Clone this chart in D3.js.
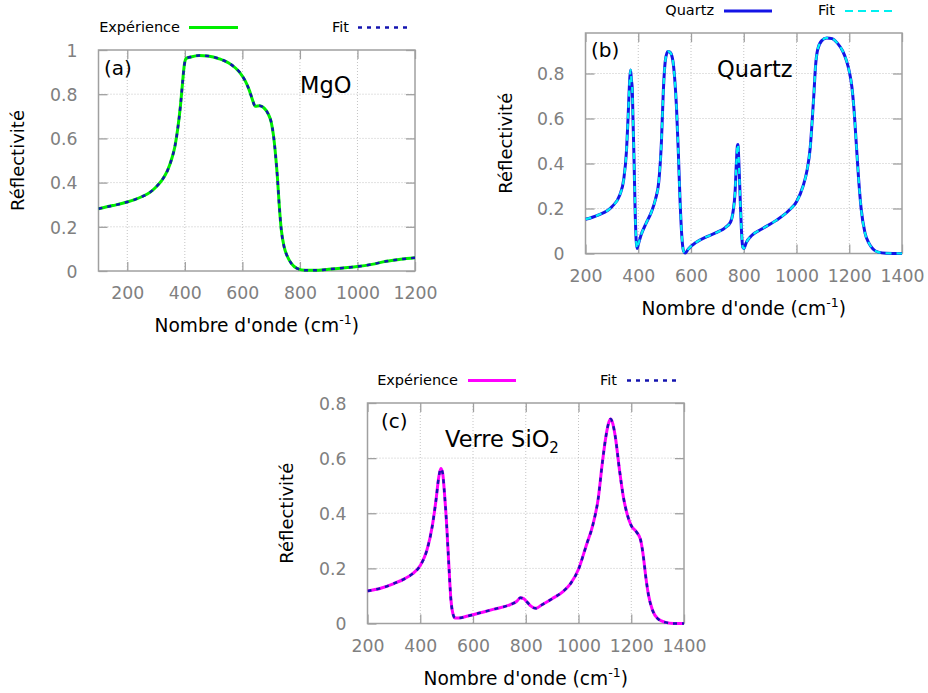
<!DOCTYPE html>
<html>
<head>
<meta charset="utf-8">
<script src="https://cdn.jsdelivr.net/npm/d3@7"></script>
<style>
html,body{margin:0;padding:0;background:#fff;}
svg{display:block;font-family:"DejaVu Sans",Verdana,sans-serif;}
</style>
</head>
<body>
<svg id="chart" width="928" height="693"></svg>
<script>
// ---------- DATA ----------
// (a) MgO
const mgoWave = [100,150,200,250,280,300,320,340,355,365,375,385,392,398,405,420,450,480,520,560,590,610,625,635,645,660,675,690,700,708,715,722,728,735,745,755,770,790,820,850,900,950,1000,1050,1100,1150,1200];
const mgoExp  = [0.282,0.296,0.312,0.336,0.357,0.38,0.41,0.455,0.51,0.56,0.64,0.75,0.85,0.93,0.962,0.968,0.975,0.973,0.96,0.935,0.9,0.86,0.815,0.775,0.745,0.748,0.738,0.71,0.675,0.615,0.53,0.42,0.3,0.19,0.11,0.07,0.035,0.012,0.003,0.003,0.008,0.014,0.02,0.03,0.044,0.053,0.06];
const mgoFit  = mgoExp.slice();
const mgoXTicks = [200,400,600,800,1000,1200];
const mgoYTicks = [0,0.2,0.4,0.6,0.8,1];

// (b) Quartz
const qzWave = [200,250,300,330,345,355,362,368,371,374,377,380,384,388,392,395,400,410,430,450,465,478,488,495,503,512,520,530,538,545,552,558,565,572,578,590,620,660,700,730,750,760,767,772,776,778,781,786,791,796,800,810,830,870,920,970,1000,1025,1040,1052,1060,1066,1072,1080,1095,1115,1135,1155,1175,1190,1200,1210,1218,1226,1235,1245,1260,1275,1290,1310,1340,1400];
const qzExp  = [0.152,0.172,0.208,0.26,0.33,0.45,0.62,0.78,0.816,0.77,0.74,0.6,0.42,0.2,0.06,0.022,0.04,0.08,0.135,0.185,0.24,0.32,0.5,0.72,0.86,0.898,0.895,0.865,0.78,0.65,0.45,0.25,0.08,0.01,0.002,0.02,0.05,0.075,0.095,0.115,0.14,0.19,0.27,0.4,0.48,0.485,0.42,0.26,0.11,0.03,0.022,0.05,0.08,0.11,0.145,0.19,0.23,0.3,0.37,0.47,0.6,0.71,0.83,0.905,0.945,0.958,0.955,0.935,0.9,0.855,0.81,0.74,0.64,0.5,0.34,0.2,0.09,0.045,0.02,0.006,0.001,0.0];
const qzFit  = qzExp.slice();
const qzXTicks = [200,400,600,800,1000,1200,1400];
const qzYTicks = [0,0.2,0.4,0.6,0.8];

// (c) Verre SiO2
const glWave = [200,250,300,340,370,400,425,445,460,470,478,485,492,500,508,516,524,532,545,580,620,680,740,765,780,792,805,820,838,860,900,940,970,1000,1030,1055,1075,1090,1105,1115,1122,1130,1140,1155,1170,1185,1200,1220,1235,1245,1255,1265,1280,1300,1330,1360,1400];
const glExp  = [0.118,0.128,0.145,0.162,0.18,0.21,0.265,0.35,0.45,0.53,0.562,0.545,0.47,0.36,0.22,0.09,0.035,0.02,0.02,0.027,0.037,0.052,0.068,0.08,0.093,0.09,0.078,0.063,0.055,0.067,0.09,0.115,0.145,0.197,0.285,0.36,0.455,0.58,0.685,0.73,0.742,0.725,0.675,0.56,0.46,0.395,0.355,0.332,0.305,0.25,0.17,0.105,0.05,0.018,0.004,0.0,0.0];
const glFit  = glExp.slice();
const glXTicks = [200,400,600,800,1000,1200,1400];
const glYTicks = [0,0.2,0.4,0.6,0.8];

// ---------- DRAW ----------
const svg = d3.select("#chart");
const FRAME = "#a0a0a0", GRID = "#c4c4c4", TICKTXT = "#808080";

function panel(o){
  const g = svg.append("g");
  const x = d3.scaleLinear().domain(o.xDomain).range([o.left,o.right]);
  const y = d3.scaleLinear().domain(o.yDomain).range([o.bottom,o.top]);
  // grid
  g.append("g").selectAll("line").data(o.xTicks.filter(t=>t>o.xDomain[0]&&t<o.xDomain[1])).join("line")
    .attr("x1",d=>x(d)).attr("x2",d=>x(d)).attr("y1",o.top).attr("y2",o.bottom)
    .attr("stroke",GRID).attr("stroke-width",1).attr("stroke-dasharray","1,2");
  g.append("g").selectAll("line").data(o.yTicks.filter(t=>t>o.yDomain[0]&&t<o.yDomain[1])).join("line")
    .attr("x1",o.left).attr("x2",o.right).attr("y1",d=>y(d)).attr("y2",d=>y(d))
    .attr("stroke",GRID).attr("stroke-width",1).attr("stroke-dasharray","1,2");
  // axes with inward ticks (all four sides)
  const tl = 9;
  const axB = g.append("g").attr("transform",`translate(0,${o.bottom})`)
    .call(d3.axisBottom(x).tickValues(o.xTicks).tickSize(-tl).tickPadding(tl+10).tickFormat(d3.format("d")));
  const axT = g.append("g").attr("transform",`translate(0,${o.top})`)
    .call(d3.axisTop(x).tickValues(o.xTicks).tickSize(-tl).tickFormat(""));
  const axL = g.append("g").attr("transform",`translate(${o.left},0)`)
    .call(d3.axisLeft(y).tickValues(o.yTicks).tickSize(-tl).tickPadding(tl+12).tickFormat(d=>d3.format("")(+d.toFixed(1))));
  const axR = g.append("g").attr("transform",`translate(${o.right},0)`)
    .call(d3.axisRight(y).tickValues(o.yTicks).tickSize(-tl).tickFormat(""));
  [axB,axT,axL,axR].forEach(a=>{
    a.select(".domain").remove();
    a.selectAll(".tick line").attr("stroke",FRAME).attr("stroke-width",1.3);
    a.selectAll(".tick text").attr("fill",TICKTXT).attr("font-size",17.3).attr("font-family","DejaVu Sans");
  });
  axB.selectAll(".tick text").attr("dy",null).attr("y",28).attr("dominant-baseline","auto");
  axL.selectAll(".tick text").attr("dy","0.36em");
  // frame
  g.append("rect").attr("x",o.left).attr("y",o.top).attr("width",o.right-o.left).attr("height",o.bottom-o.top)
    .attr("fill","none").attr("stroke",FRAME).attr("stroke-width",1.5);
  // curves
  const clip = "clip"+o.id;
  svg.append("clipPath").attr("id",clip).append("rect")
    .attr("x",o.left).attr("y",o.top-4).attr("width",o.right-o.left).attr("height",o.bottom-o.top+6);
  const line = d3.line().x((d,i)=>x(o.wave[i])).y(d=>y(d)).curve(d3.curveMonotoneX);
  g.append("path").datum(o.exp).attr("d",line).attr("fill","none").attr("clip-path",`url(#${clip})`)
    .attr("stroke",o.expColor).attr("stroke-width",o.expWidth).attr("stroke-linejoin","round");
  g.append("path").datum(o.fit).attr("d",line).attr("fill","none").attr("clip-path",`url(#${clip})`)
    .attr("stroke",o.fitColor).attr("stroke-width",o.fitWidth).attr("stroke-dasharray",o.dash);
  // legend
  const lg = g.append("g").attr("font-size",14.5).attr("fill","#000");
  lg.append("text").attr("x",o.leg.t1x).attr("y",o.leg.ty).attr("text-anchor","end").text(o.leg.t1);
  lg.append("line").attr("x1",o.leg.l1x[0]).attr("x2",o.leg.l1x[1]).attr("y1",o.leg.ly).attr("y2",o.leg.ly)
    .attr("stroke",o.expColor).attr("stroke-width",o.expWidth);
  lg.append("text").attr("x",o.leg.t2x).attr("y",o.leg.ty).attr("text-anchor","end").text("Fit");
  lg.append("line").attr("x1",o.leg.l2x[0]).attr("x2",o.leg.l2x[1]).attr("y1",o.leg.ly).attr("y2",o.leg.ly)
    .attr("stroke",o.legFitColor||o.fitColor).attr("stroke-width",o.fitWidth).attr("stroke-dasharray",o.legDash||o.dash);
  // axis titles
  const xt = g.append("text").attr("x",(o.left+o.right)/2).attr("y",o.bottom+61).attr("text-anchor","middle").attr("font-size",18.6);
  xt.append("tspan").text("Nombre d'onde (cm");
  xt.append("tspan").attr("font-size",12.5).attr("dy",-8).text("-1");
  xt.append("tspan").attr("dy",8).text(")");
  g.append("text").attr("transform",`translate(${o.ytx},${(o.top+o.bottom)/2}) rotate(-90)`)
    .attr("text-anchor","middle").attr("dy","0.36em").attr("font-size",18).text("Réflectivité");
  // panel labels
  g.append("text").attr("x",o.lab.x).attr("y",o.lab.y).attr("font-size",20).text(o.lab.t);
  const nt = g.append("text").attr("x",o.name.x).attr("y",o.name.y).attr("font-size",22.5);
  nt.append("tspan").text(o.name.t);
  if(o.name.sub){ nt.append("tspan").attr("font-size",15).attr("dy",6).text(o.name.sub); }
}

panel({id:"a", left:98.5,right:415,top:50,bottom:271, xDomain:[100,1200], yDomain:[0,1],
  xTicks:mgoXTicks, yTicks:mgoYTicks, wave:mgoWave, exp:mgoExp, fit:mgoFit,
  expColor:"#00ee00", expWidth:3, fitColor:"#1414b0", fitWidth:2.5, dash:"4,5",
  leg:{t1:"Expérience", t1x:180, ty:32, ly:27.5, l1x:[189,238], t2x:349, l2x:[358,407]},
  ytx:18, lab:{x:104,y:75,t:"(a)"}, name:{x:300,y:93,t:"MgO"}});

panel({id:"b", left:585.5,right:902,top:33,bottom:253.5, xDomain:[200,1400], yDomain:[0,0.98],
  xTicks:qzXTicks, yTicks:qzYTicks, wave:qzWave, exp:qzExp, fit:qzFit,
  expColor:"#1414e6", expWidth:3, fitColor:"#00f0f0", fitWidth:2.2, dash:"6,5", legDash:"8,5",
  leg:{t1:"Quartz", t1x:714, ty:15, ly:11, l1x:[724,772], t2x:835, l2x:[845,893]},
  ytx:505.5, lab:{x:591,y:57,t:"(b)"}, name:{x:717,y:77,t:"Quartz"}});

panel({id:"c", left:367.5,right:684,top:403,bottom:623.5, xDomain:[200,1400], yDomain:[0,0.8],
  xTicks:glXTicks, yTicks:glYTicks, wave:glWave, exp:glExp, fit:glFit,
  expColor:"#ff00ff", expWidth:3, fitColor:"#1414b0", fitWidth:2.5, dash:"4,5",
  leg:{t1:"Expérience", t1x:458, ty:385, ly:380.5, l1x:[468,516], t2x:617, l2x:[627,676]},
  ytx:286.5, lab:{x:381,y:428,t:"(c)"}, name:{x:445,y:447,t:"Verre SiO",sub:"2"}});
</script>
</body>
</html>
